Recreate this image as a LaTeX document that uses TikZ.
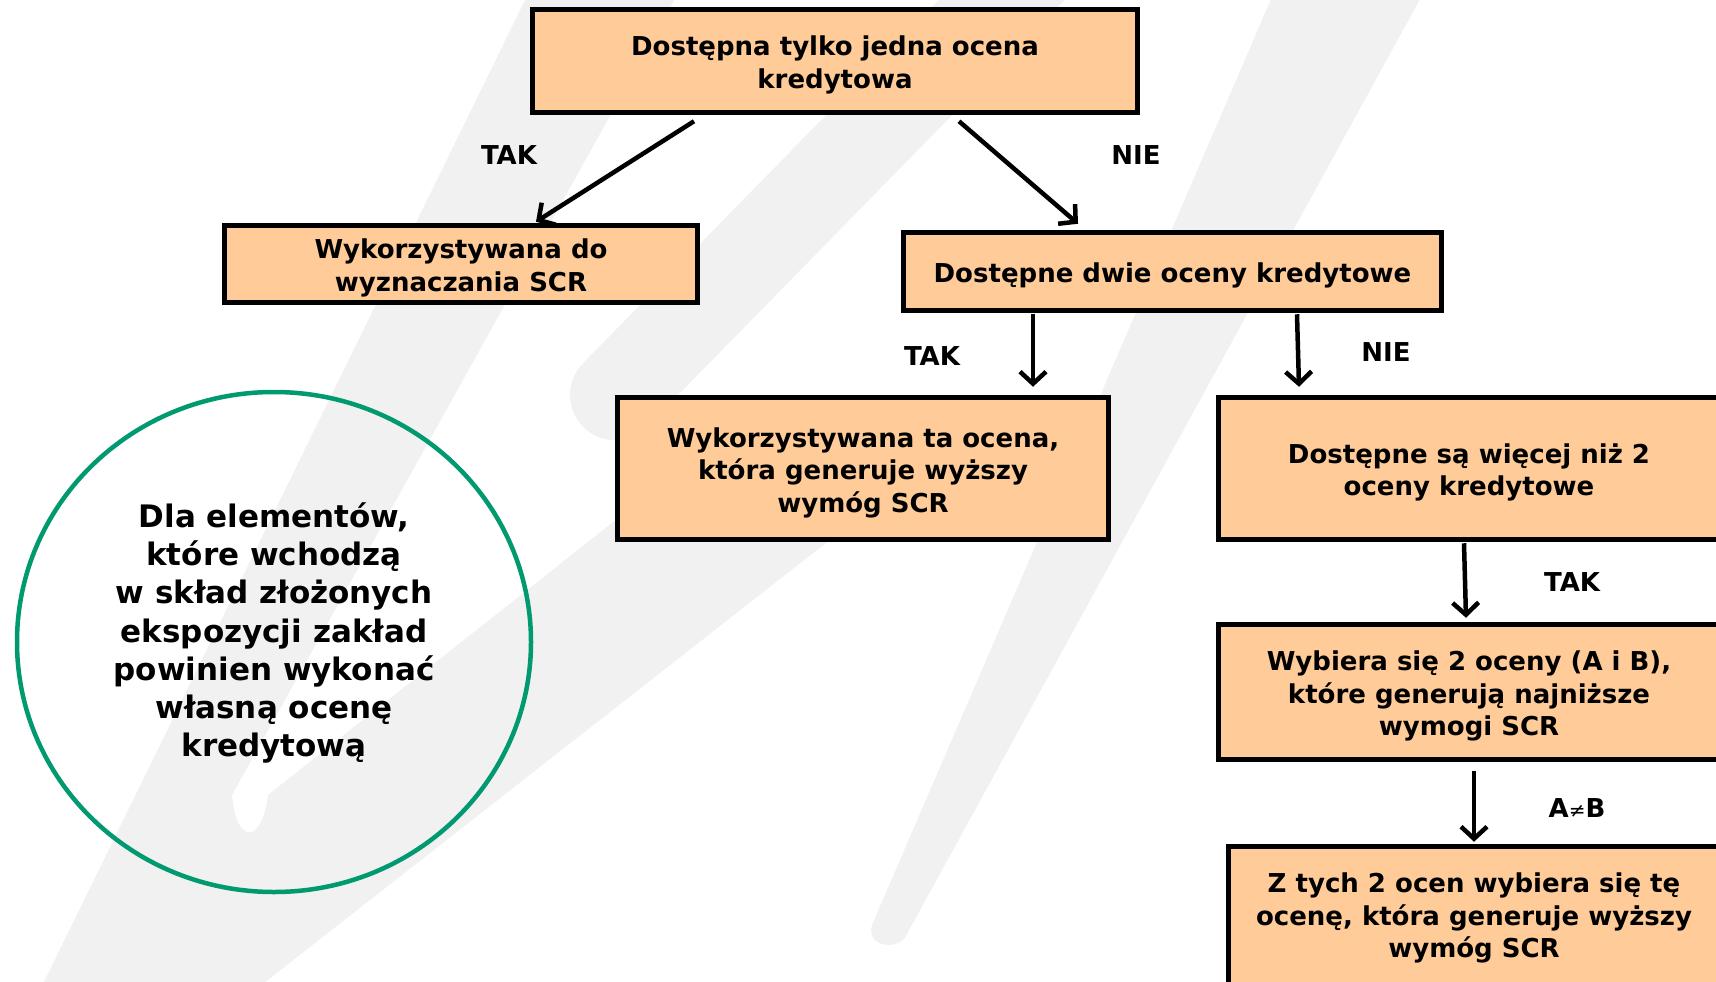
\documentclass[tikz,border=0pt]{standalone}
\usepackage{fontspec}
\setmainfont{DejaVu Sans}
\usetikzlibrary{arrows.meta}
\definecolor{peach}{RGB}{255,204,153}
\definecolor{ringgreen}{RGB}{0,153,112}
\definecolor{wmark}{RGB}{241,241,241}
\newcommand{\boxfont}{\bfseries\fontsize{26}{32.5}\selectfont}
\newcommand{\ringfont}{\bfseries\fontsize{31}{38.3}\selectfont}
\newcommand{\topstrut}{\rule{0pt}{28pt}}
\newcommand{\lowstrut}{\rule{0pt}{24pt}}
\begin{document}
\begin{tikzpicture}[x=1pt,y=-1pt,
  stepbox/.style={draw=black, line width=5.5pt, fill=peach, inner sep=0pt,
    align=center, font=\boxfont, anchor=center},
  arr/.style={line width=4.5pt, -{Straight Barb[length=12pt,width=26pt]}},
  lbl/.style={font=\boxfont, inner sep=0pt, anchor=center}]
\useasboundingbox (0,0) rectangle (1716,982);
\fill[white] (0,0) rectangle (1716,982);

% light watermark strokes in the background
\fill[wmark] (530,-10) -- (40,990) -- (255,990) -- (900,485) -- (660,485)
  -- (268,795) .. controls (262,845) and (236,845) .. (232,795) -- (680,-10) -- cycle;
\draw[wmark, line width=90pt, line cap=round] (615,395) -- (1041,-40);
\fill[wmark] (1275,-10) -- (872,925) .. controls (865,948) and (902,952) .. (908,932)
  -- (1425,-10) -- cycle;

% decision boxes
\node[stepbox, minimum width=605pt, minimum height=103pt] (top) at (835,61)
  {\topstrut Dostępna tylko jedna ocena\\kredytowa};
\node[stepbox, minimum width=473pt, minimum height=77pt] (use) at (461,264)
  {\topstrut Wykorzystywana do\\wyznaczania SCR};
\node[stepbox, minimum width=538pt, minimum height=78pt] (two) at (1172.5,271.5)
  {\topstrut Dostępne dwie oceny kredytowe};
\node[stepbox, minimum width=491pt, minimum height=142pt] (higher) at (863,468.5)
  {\topstrut Wykorzystywana ta ocena,\\która generuje wyższy\\wymóg SCR};
\node[stepbox, minimum width=501pt, minimum height=142pt] (more) at (1469,468.5)
  {\topstrut Dostępne są więcej niż 2\\oceny kredytowe};
\node[stepbox, minimum width=501pt, minimum height=135pt] (pick) at (1469,692)
  {\topstrut Wybiera się 2 oceny (A i B),\\które generują najniższe\\wymogi SCR};
\node[stepbox, minimum width=491pt, minimum height=139pt] (final) at (1474,916)
  {\lowstrut Z tych 2 ocen wybiera się tę\\ocenę, która generuje wyższy\\wymóg SCR};

% note in the ring
\draw[ringgreen, line width=4.5pt] (274,642) ellipse [x radius=257pt, y radius=250pt];
\node[font=\ringfont, align=center, inner sep=0pt] (note) at (274,633)
  {Dla elementów,\\które wchodzą\\w skład złożonych\\ekspozycji zakład\\powinien wykonać\\własną ocenę\\kredytową};

% connectors
\draw[arr] ([xshift=-141pt,yshift=-6pt]top.south) -- ([xshift=75pt,yshift=1pt]use.north);
\draw[arr] ([xshift=124pt,yshift=-6pt]top.south) -- ([xshift=-94.5pt,yshift=6pt]two.north);
\draw[arr] ([xshift=-139.5pt,yshift=-1pt]two.south) -- ([xshift=170pt,yshift=8pt]higher.north);
\draw[arr] ([xshift=124.5pt,yshift=-1pt]two.south) -- ([xshift=-170pt,yshift=8pt]more.north);
\draw[arr] ([xshift=-5pt,yshift=-1pt]more.south) -- ([xshift=-3pt,yshift=4pt]pick.north);
\draw[arr] ([xshift=5pt,yshift=-9pt]pick.south) -- ([yshift=2pt]final.north);

% branch labels
\node[lbl] (l1) at (509,155) {TAK};
\node[lbl] (l2) at (1136,155) {NIE};
\node[lbl] (l3) at (932,356) {TAK};
\node[lbl] (l4) at (1386,352) {NIE};
\node[lbl] (l5) at (1572,582) {TAK};
\node[lbl] (l6) at (1577,808) {A{\mdseries\fontsize{20}{24}\selectfont ≠}B};
\end{tikzpicture}
\end{document}
